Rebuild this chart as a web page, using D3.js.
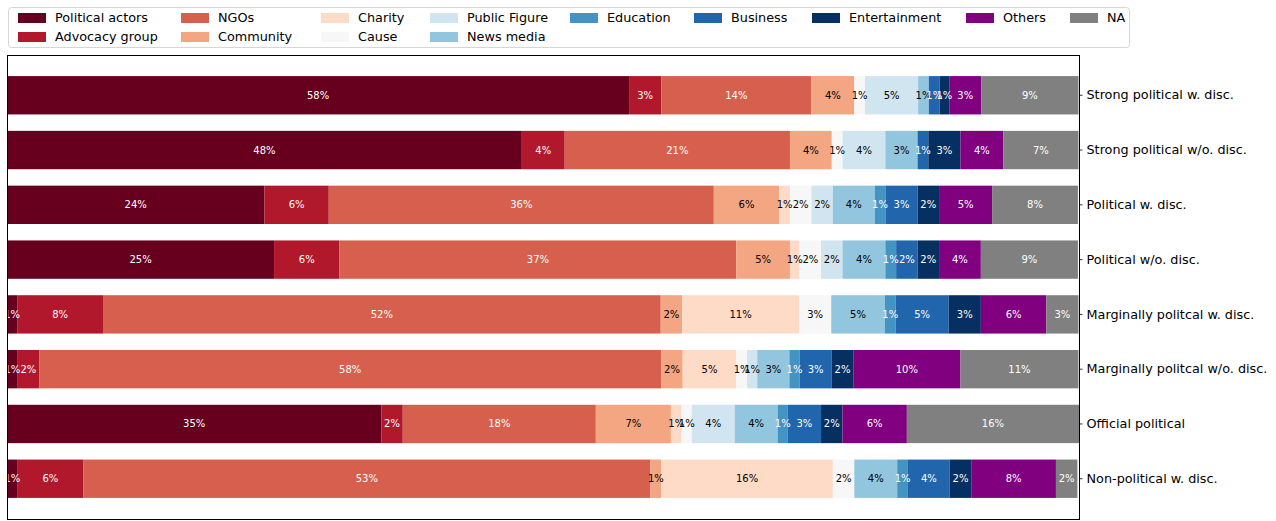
<!DOCTYPE html>
<html>
<head>
<meta charset="utf-8">
<script src="https://cdn.jsdelivr.net/npm/d3@7"></script>
<style>
  body { margin: 0; background: #fff; }
  text { font-family: "DejaVu Sans", sans-serif; }
</style>
</head>
<body>
<div class="chart"></div>
<script>
// Row labels, top to bottom
let groups = [
  "Strong political w. disc.",
  "Strong political w/o. disc.",
  "Political w. disc.",
  "Political w/o. disc.",
  "Marginally politcal w. disc.",
  "Marginally politcal w/o. disc.",
  "Official political",
  "Non-political w. disc."
];

// Stack categories in order
let categories = ["Political actors", "Advocacy group", "NGOs", "Community", "Charity", "Cause",
  "Public Figure", "News media", "Education", "Business", "Entertainment", "Others", "NA"];

let colors = ["#67001f", "#b2182b", "#d6604d", "#f4a582", "#fddbc7", "#f7f7f7",
  "#d1e5f0", "#92c5de", "#4393c3", "#2166ac", "#053061", "#800080", "#808080"];

// share (%) per category, one value for each row above
let politicalActors = [58.0, 48.0, 24.0, 24.9, 0.95, 1.0, 34.9, 1.0];
let advocacyGroup   = [3.0, 4.0, 6.0, 6.1, 8.0, 2.0, 2.0, 6.1];
let ngos            = [14.0, 21.0, 35.9, 37.0, 52.0, 58.0, 18.0, 52.9];
let community       = [4.0, 3.9, 6.1, 5.0, 2.0, 2.0, 7.0, 1.0];
let charity         = [0, 0, 1.0, 0.9, 10.9, 5.0, 1.0, 16.0];
let cause           = [1.0, 1.0, 2.0, 2.0, 3.0, 1.0, 0.95, 2.0];
let publicFigure    = [4.95, 4.0, 2.0, 2.0, 0, 0.95, 4.0, 0];
let newsMedia       = [1.0, 3.0, 3.9, 4.0, 5.0, 3.0, 4.0, 4.0];
let education       = [0, 0, 1.0, 1.0, 1.0, 0.95, 0.95, 1.0];
let business        = [1.0, 1.0, 3.0, 2.0, 4.95, 3.0, 3.1, 3.9];
let entertainment   = [0.9, 3.0, 2.0, 2.0, 3.0, 2.0, 2.0, 2.0];
let others          = [3.0, 4.0, 4.95, 3.9, 6.1, 10.0, 6.0, 7.9];
let na              = [9.05, 7.0, 8.0, 9.05, 3.0, 11.0, 16.05, 2.0];

let series = [politicalActors, advocacyGroup, ngos, community, charity, cause,
  publicFigure, newsMedia, education, business, entertainment, others, na];

// categories that get white labels
let darkLabels = ["Political actors", "Advocacy group", "NGOs", "Education", "Business", "Entertainment", "Others", "NA"];

// build table for d3.stack
let table = groups.map((g, i) => {
  let row = {group: g};
  categories.forEach((c, j) => { row[c] = series[j][i]; });
  return row;
});

let svgWidth = 1276;
let svgHeight = 521;
let margin = {top: 55, right: 197, bottom: 2, left: 7};
let width = svgWidth - margin.left - margin.right;
let height = svgHeight - margin.top - margin.bottom;

let svg = d3.select(".chart").append("svg")
  .attr("width", svgWidth)
  .attr("height", svgHeight);

let chartGroup = svg.append("g")
  .attr("transform", `translate(${margin.left}, ${margin.top})`);

let totalMax = d3.max(table, d => d3.sum(categories, c => d[c]));

let xScale = d3.scaleLinear().domain([0, totalMax]).range([0, width]);
let yScale = d3.scaleBand().domain(groups).range([0, height])
  .paddingInner(0.3).paddingOuter(0.385);

let color = d3.scaleOrdinal().domain(categories).range(colors);

let stacked = d3.stack().keys(categories)(table);

let layers = chartGroup.selectAll(".layer")
  .data(stacked)
  .enter()
  .append("g")
  .attr("class", "layer")
  .attr("fill", d => color(d.key));

layers.selectAll("rect")
  .data(d => d)
  .enter()
  .append("rect")
  .attr("x", d => xScale(d[0]))
  .attr("y", d => yScale(d.data.group))
  .attr("width", d => xScale(d[1]) - xScale(d[0]))
  .attr("height", yScale.bandwidth());

// percentage labels
stacked.forEach(layer => {
  let txtColor = darkLabels.includes(layer.key) ? "#ffffff" : "#000000";
  chartGroup.append("g").selectAll("text")
    .data(layer.filter(d => d[1] - d[0] > 0))
    .enter()
    .append("text")
    .attr("x", d => (xScale(d[0]) + xScale(d[1])) / 2)
    .attr("y", d => yScale(d.data.group) + yScale.bandwidth() / 2)
    .attr("dy", "0.35em")
    .attr("text-anchor", "middle")
    .style("font-size", "10px")
    .attr("fill", txtColor)
    .text(d => Math.round(d[1] - d[0]) + "%");
});

// right axis with group names
let rightAxis = d3.axisRight(yScale).tickSize(3.5).tickPadding(4);
let axisG = chartGroup.append("g")
  .attr("transform", `translate(${width}, 0)`)
  .call(rightAxis);
axisG.select(".domain").remove();
axisG.selectAll("text").style("font-size", "12.8px").attr("fill", "#000");
axisG.selectAll("line").attr("stroke", "#000").attr("stroke-width", 0.8);

// frame
chartGroup.append("rect")
  .attr("x", 0.5).attr("y", 0.5)
  .attr("width", width).attr("height", height)
  .attr("fill", "none")
  .attr("stroke", "#000")
  .attr("stroke-width", 1)
  .attr("shape-rendering", "crispEdges");

// legend: 9 columns, filled column-wise, 2 rows
let legendX = [18, 181, 321, 430, 570, 694, 812, 966, 1070];
let legendRowY = [18, 37];
let legend = svg.append("g");

legend.append("rect")
  .attr("x", 8.5).attr("y", 7.5)
  .attr("width", 1121).attr("height", 40)
  .attr("rx", 3)
  .attr("fill", "#fff")
  .attr("fill-opacity", 0.8)
  .attr("stroke", "#d6d6d6");

let colOf = i => i < 8 ? Math.floor(i / 2) : i - 4;
let rowOf = i => i < 8 ? i % 2 : 0;

let items = legend.selectAll(".item")
  .data(categories)
  .enter()
  .append("g")
  .attr("transform", (d, i) => `translate(${legendX[colOf(i)]}, ${legendRowY[rowOf(i)]})`);

items.append("rect")
  .attr("x", 0).attr("y", -5)
  .attr("width", 28).attr("height", 10)
  .attr("fill", d => color(d));

items.append("text")
  .attr("x", 37)
  .attr("dy", "0.35em")
  .style("font-size", "12.8px")
  .attr("fill", "#000")
  .text(d => d);
</script>
</body>
</html>
